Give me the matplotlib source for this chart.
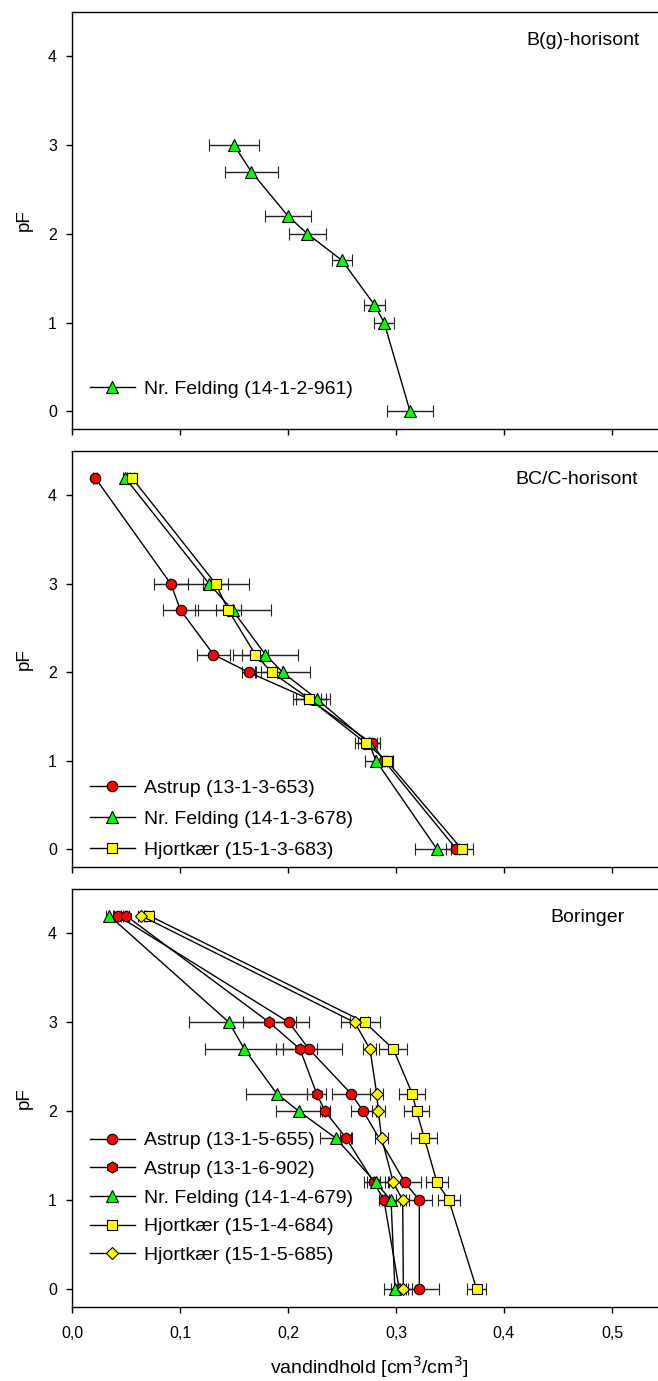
import matplotlib
matplotlib.use("Agg")
import matplotlib.pyplot as plt
from matplotlib.ticker import FuncFormatter
from matplotlib.lines import Line2D

plt.rcParams['font.family'] = ['Liberation Sans', 'DejaVu Sans']

# ---------------- data ----------------
# Top panel: B(g)-horisont
pf_top = [0, 1.0, 1.2, 1.7, 2.0, 2.2, 2.7, 3.0]
felding_top = [0.313, 0.289, 0.280, 0.250, 0.218, 0.200, 0.166, 0.150]
felding_top_err = [0.021, 0.009, 0.010, 0.009, 0.017, 0.021, 0.0245, 0.0235]

# Middle panel: BC/C-horisont
pf_mid = [0, 1.0, 1.2, 1.7, 2.0, 2.2, 2.7, 3.0, 4.2]
astrup_mid = [0.356, 0.289, 0.2775, 0.219, 0.1636, 0.131, 0.1006, 0.0914, 0.0213]
astrup_mid_err = [0.010, 0.008, 0.008, 0.012, 0.006, 0.015, 0.0165, 0.0157, 0.002]
felding_mid = [0.338, 0.2815, 0.275, 0.2265, 0.195, 0.179, 0.1488, 0.127, 0.049]
felding_mid_err = [0.020, 0.010, 0.010, 0.012, 0.025, 0.030, 0.035, 0.0365, 0.002]
hjort_mid = [0.361, 0.2914, 0.272, 0.2198, 0.1849, 0.1698, 0.1448, 0.133, 0.0553]
hjort_mid_err = [0.010, 0.006, 0.010, 0.015, 0.010, 0.012, 0.0114, 0.0116, 0.002]

# Bottom panel: Boringer
pf_bot = [0, 1.0, 1.2, 1.7, 2.0, 2.2, 2.7, 3.0, 4.2]
pf_bot_b = [0, 1.0, 1.2, 2.0, 2.2, 2.7, 3.0, 4.2]
astrup655 = [0.3216, 0.3216, 0.3083, 0.2698, 0.2583, 0.2194, 0.2009, 0.0423]
astrup655_err = [0.018, 0.012, 0.015, 0.0117, 0.0173, 0.0306, 0.0185, 0.003]
astrup902 = [0.303, 0.2889, 0.2796, 0.2537, 0.2343, 0.2265, 0.2111, 0.1827, 0.050]
astrup902_err = [0.008, 0.005, 0.006, 0.006, 0.005, 0.009, 0.016, 0.0244, 0.003]
felding_bot = [0.299, 0.2954, 0.2812, 0.2441, 0.2102, 0.1895, 0.1596, 0.1454, 0.0346]
felding_bot_err = [0.010, 0.008, 0.011, 0.0146, 0.021, 0.028, 0.036, 0.0373, 0.003]
hjort684 = [0.3747, 0.349, 0.338, 0.3262, 0.3191, 0.315, 0.2975, 0.2713, 0.0716]
hjort684_err = [0.009, 0.010, 0.010, 0.012, 0.0117, 0.012, 0.013, 0.0136, 0.003]
hjort685 = [0.3068, 0.3062, 0.2975, 0.2867, 0.2836, 0.2821, 0.2759, 0.2617, 0.0639]
hjort685_err = [0.008, 0.006, 0.008, 0.006, 0.006, 0.006, 0.006, 0.0123, 0.003]

x_ticks = [0.0, 0.1, 0.2, 0.3, 0.4, 0.5]
y_ticks = [0, 1, 2, 3, 4]

RED, GREEN, YELLOW = '#FF0000', '#00FF00', '#FFFF00'

W, H = 658, 1381
fig = plt.figure(figsize=(W / 100, H / 100), dpi=100)

def axes_px(top, bottom, left=72, right=666):
    return fig.add_axes([left / W, 1 - bottom / H, (right - left) / W, (bottom - top) / H])

ax_top = axes_px(12, 429)
ax_mid = axes_px(451, 867)
ax_bot = axes_px(889, 1307)

handles = {ax_top: [], ax_mid: [], ax_bot: []}

def series(ax, x, y, err, marker, color, ms, label):
    ax.errorbar(x, y, xerr=err, fmt='-', color='black', lw=1.0,
                marker=marker, ms=ms, mfc=color, mec='black', mew=0.8,
                ecolor='#222222', elinewidth=1.0, capsize=4.5, capthick=1.0)
    handles[ax].append(Line2D([], [], color='black', lw=1.0, marker=marker, ms=ms,
                              mfc=color, mec='black', mew=0.8, label=label))

series(ax_top, felding_top, pf_top, felding_top_err, '^', GREEN, 8, 'Nr. Felding (14-1-2-961)')

series(ax_mid, astrup_mid, pf_mid, astrup_mid_err, 'o', RED, 7.5, 'Astrup (13-1-3-653)')
series(ax_mid, felding_mid, pf_mid, felding_mid_err, '^', GREEN, 8, 'Nr. Felding (14-1-3-678)')
series(ax_mid, hjort_mid, pf_mid, hjort_mid_err, 's', YELLOW, 7, 'Hjortkær (15-1-3-683)')

series(ax_bot, astrup655, pf_bot_b, astrup655_err, 'o', RED, 7.5, 'Astrup (13-1-5-655)')
series(ax_bot, astrup902, pf_bot, astrup902_err, 'h', RED, 8, 'Astrup (13-1-6-902)')
series(ax_bot, felding_bot, pf_bot, felding_bot_err, '^', GREEN, 8, 'Nr. Felding (14-1-4-679)')
series(ax_bot, hjort684, pf_bot, hjort684_err, 's', YELLOW, 7, 'Hjortkær (15-1-4-684)')
series(ax_bot, hjort685, pf_bot, hjort685_err, 'D', YELLOW, 6, 'Hjortkær (15-1-5-685)')

titles = ['B(g)-horisont', 'BC/C-horisont', 'Boringer']
title_x = [640, 638, 625]
for ax, t, tx in zip([ax_top, ax_mid, ax_bot], titles, title_x):
    ax.set_xlim(0, 0.55)
    ax.set_ylim(-0.2, 4.5)
    ax.set_xticks(x_ticks)
    ax.set_yticks(y_ticks)
    ax.spines['right'].set_visible(False)
    for s in ax.spines.values():
        s.set_linewidth(1.0)
    ax.tick_params(direction='out', length=4, width=1, labelsize=11.5)
    ax.tick_params(axis='y', pad=6.8)
    ax.tick_params(axis='x', pad=10)
    ax.set_ylabel('pF', fontsize=13.5, labelpad=11)
    ax.text((tx - 72) / (666 - 72), 0.932, t, transform=ax.transAxes,
            ha='right', va='center', fontsize=14)

ax_top.tick_params(labelbottom=False)
ax_mid.tick_params(labelbottom=False)
ax_bot.xaxis.set_major_formatter(FuncFormatter(lambda v, p: f'{v:.1f}'.replace('.', ',')))
ax_bot.set_xlabel('vandindhold [cm$^3$/cm$^3$]', fontsize=14, labelpad=9)

leg_kw = dict(frameon=False, fontsize=14, handlelength=2.3, handletextpad=0.5,
              borderaxespad=0.0, loc='lower left')
ax_top.legend(handles=handles[ax_top], bbox_to_anchor=(0.017, 0.056), **leg_kw)
ax_mid.legend(handles=handles[ax_mid], bbox_to_anchor=(0.017, 0.0), labelspacing=0.7, **leg_kw)
ax_bot.legend(handles=handles[ax_bot], bbox_to_anchor=(0.017, 0.084), labelspacing=0.57, **leg_kw)

fig.savefig('out.png', dpi=100)
